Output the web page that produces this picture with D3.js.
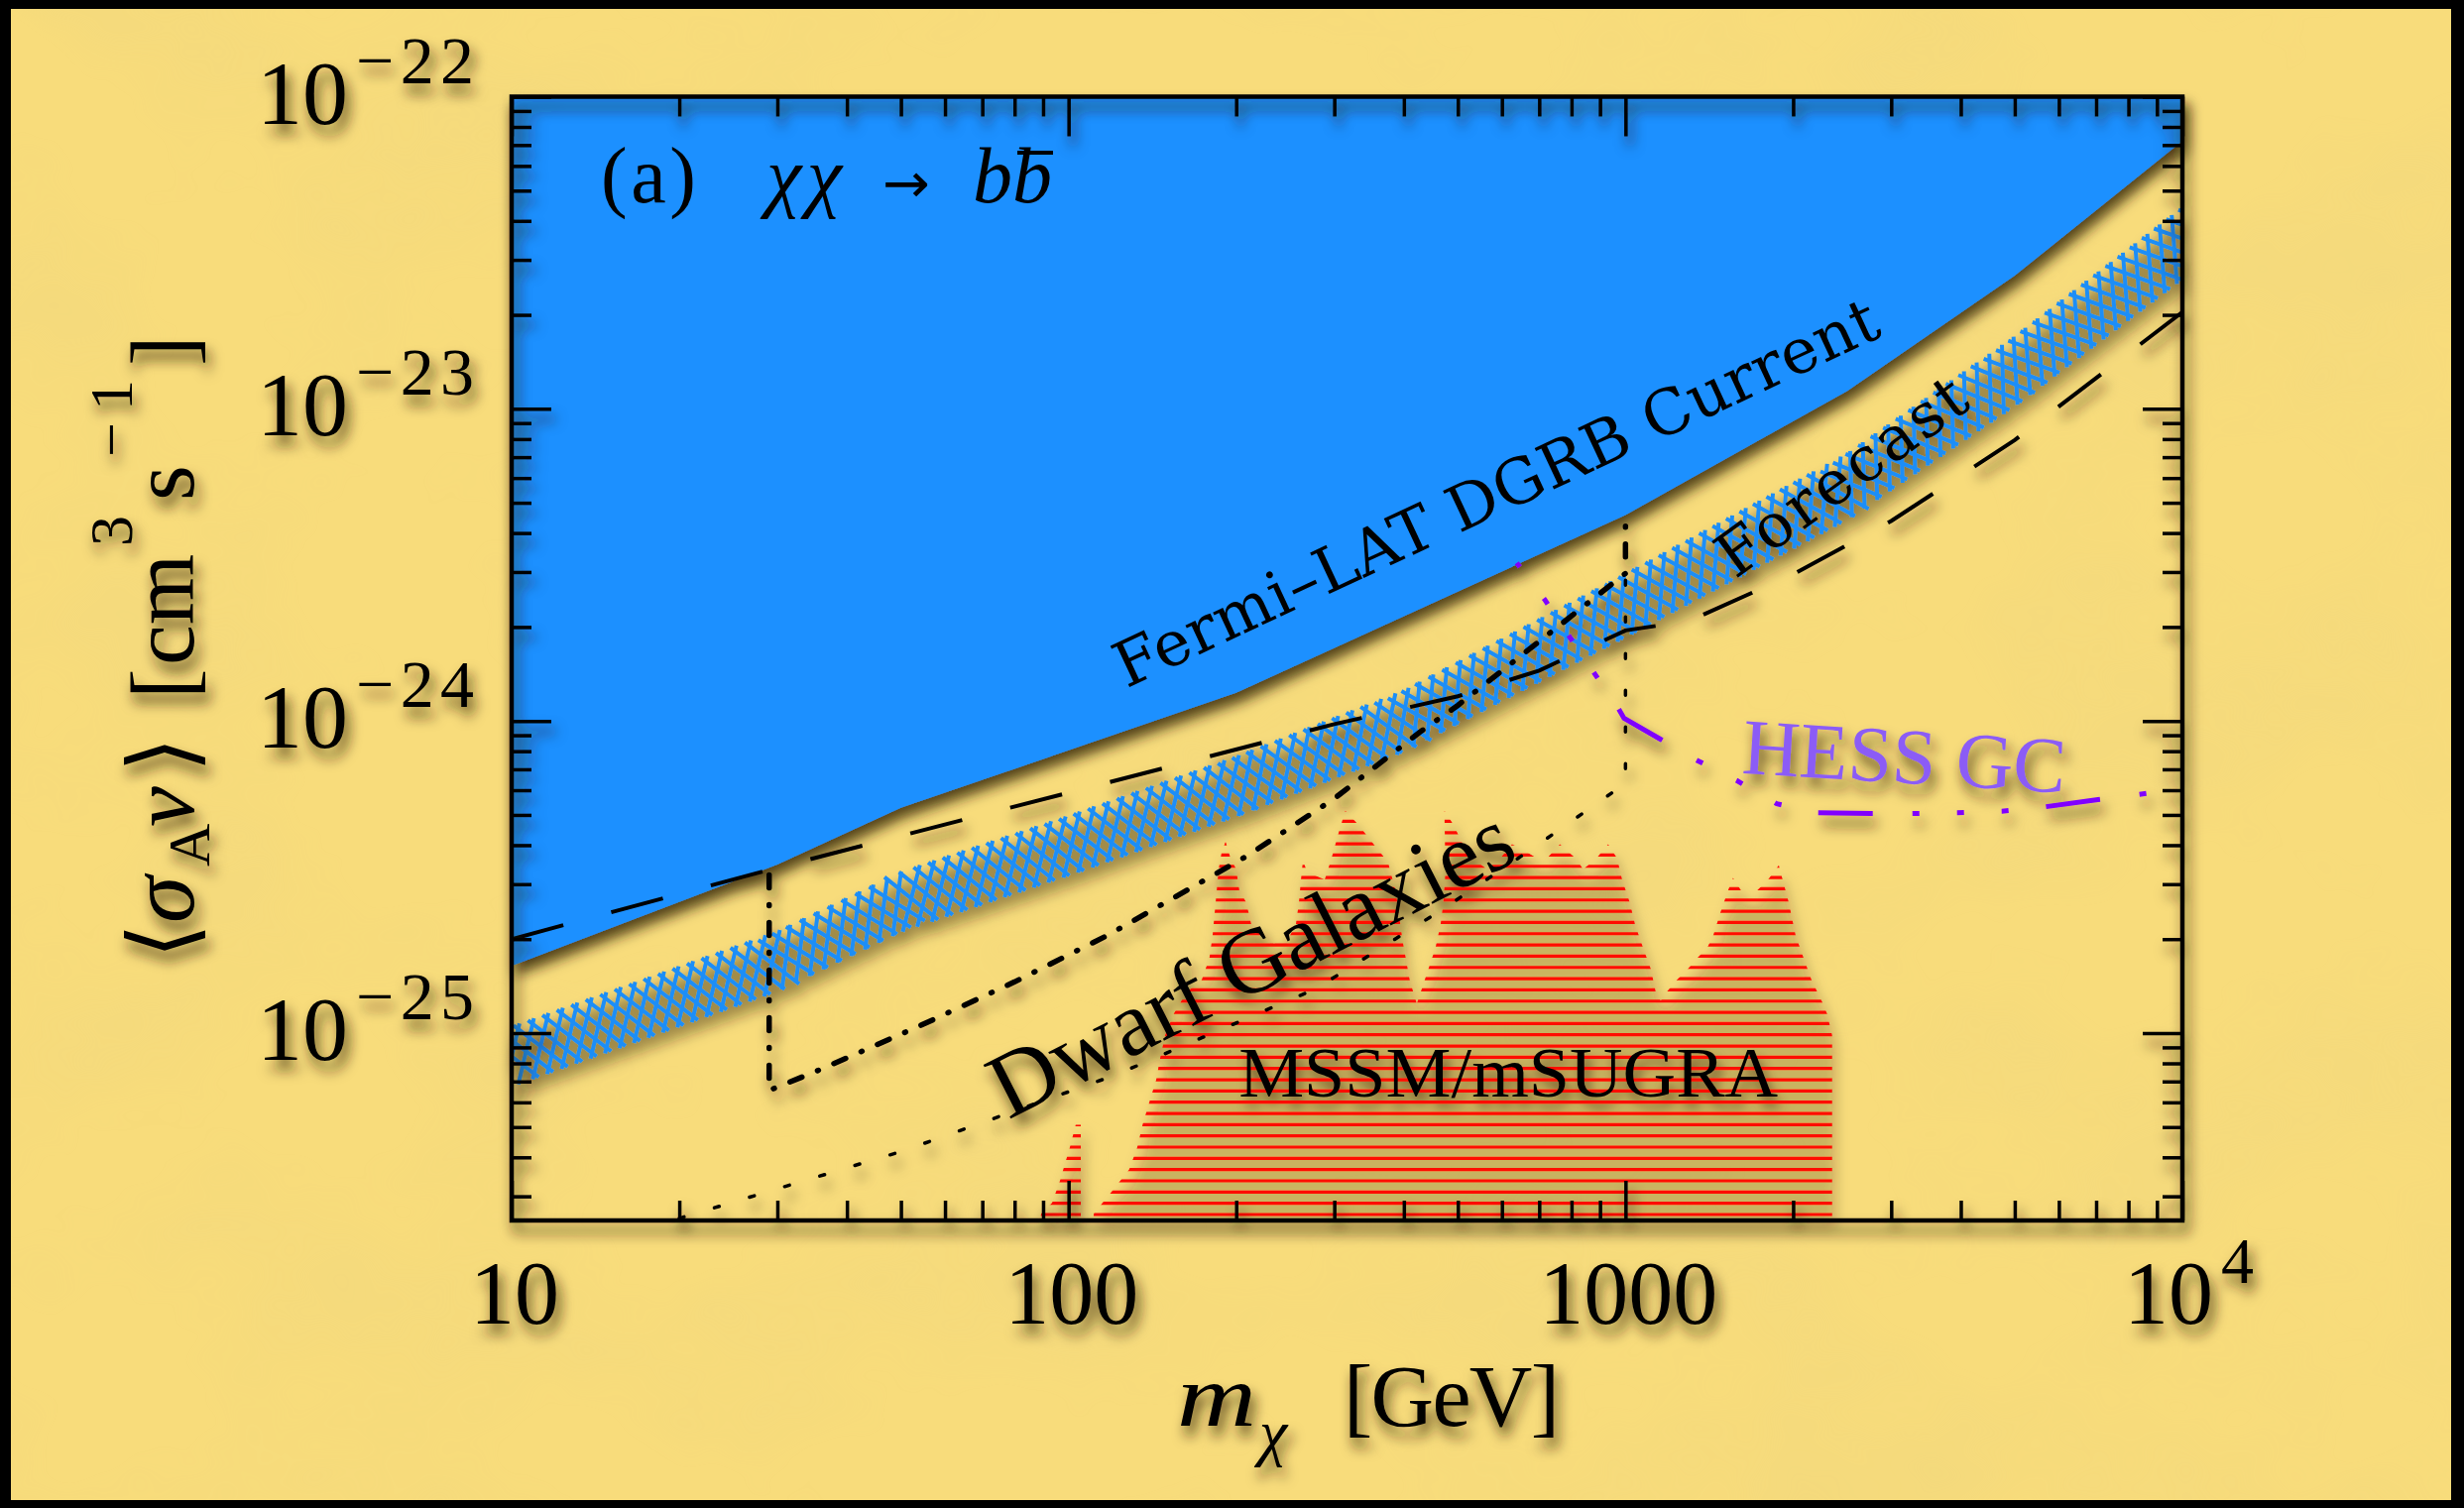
<!DOCTYPE html>
<html>
<head>
<meta charset="utf-8">
<script src="https://cdn.jsdelivr.net/npm/d3@7"></script>
<style>
  html, body { margin: 0; padding: 0; background: #000; }
  svg { display: block; }
</style>
</head>
<body>
<svg id="chart" width="2485" height="1521"></svg>
<script>
// ---------------------------------------------------------------
// Annihilation cross-section limits, chi chi -> b b-bar channel
// mass in GeV, <sigma_A v> in cm^3 s^-1
// ---------------------------------------------------------------

// Fermi-LAT DGRB current limit (region above is excluded)
const massFermi  = [10, 30, 50, 200, 1000, 2500, 5000, 10000];
const sigmaFermi = [1.64e-25, 3.47e-25, 5.27e-25, 1.23e-24, 4.57e-24, 1.14e-23, 2.67e-23, 7.21e-23];

// Fermi-LAT forecast band
const massForecast      = [10, 30, 50, 100, 200, 400, 1000, 2500, 5000, 10000];
const sigmaForecastLow  = [6.84e-26, 1.38e-25, 2.14e-25, 3.24e-25, 5.01e-25, 8.09e-25, 1.88e-24, 4.47e-24, 1.035e-23, 2.64e-23];
const sigmaForecastHigh = [1.035e-25, 2.09e-25, 3.24e-25, 4.90e-25, 7.59e-25, 1.236e-24, 2.92e-24, 7.08e-24, 1.68e-23, 4.35e-23];

// long-dashed limit curve
const massDashed  = [10, 30, 100, 300, 500, 700, 1000, 1300, 2000, 3000, 5000, 10000];
const sigmaDashed = [2.0e-25, 3.39e-25, 5.89e-25, 9.77e-25, 1.20e-24, 1.45e-24, 1.95e-24, 2.09e-24, 2.95e-24, 4.37e-24, 7.94e-24, 2.04e-23];

// dwarf galaxies: upper (dash-dot) and lower (dotted) edges
const massDwarfUpper  = [29, 29, 36, 54, 80, 118, 209, 300, 428, 500, 706, 1000, 1000];
const sigmaDwarfUpper = [3.21e-25, 6.55e-26, 7.67e-26, 1.054e-25, 1.459e-25, 2.065e-25, 3.69e-25, 5.64e-25, 9.23e-25, 1.122e-24, 1.82e-24, 2.97e-24, 4.40e-24];
const massDwarfLower  = [20, 50.4, 121.6, 278.6, 467.7, 679, 1000, 1000];
const sigmaDwarfLower = [2.55e-26, 4.19e-26, 7.35e-26, 1.39e-25, 2.48e-25, 3.89e-25, 6.31e-25, 2.97e-24];

// HESS Galactic Centre limit
const massHess  = [638, 716, 787, 875, 970, 994, 1157, 1330, 1587, 1869, 2194, 2759, 3265, 3942, 4741, 5632, 7055, 8279, 10000];
const sigmaHess = [3.21e-24, 2.45e-24, 1.90e-24, 1.44e-24, 1.10e-24, 1.02e-24, 8.73e-25, 7.55e-25, 6.43e-25, 5.43e-25, 5.08e-25, 5.05e-25, 5.05e-25, 5.08e-25, 5.14e-25, 5.30e-25, 5.60e-25, 5.80e-25, 6.07e-25];

// MSSM / mSUGRA model region outline (main body and the small spike near 100 GeV)
const mssmMass = [109.6, 111, 119.4, 128.5, 132.8, 135.8, 139.5, 143.6, 146, 149,
  154.5, 163, 173.4, 179, 181.4, 184.5, 186, 188.3, 191.4, 195.4,
  200, 202.6, 208.5, 212.8, 222.6, 233.9, 250, 256, 259.2, 261.4,
  263.6, 268, 288.4, 296.6, 305.5, 314, 331, 356.5, 374.6, 387,
  398, 410, 422, 436, 456, 465.6, 471, 475, 473, 490.6,
  513.6, 530.9, 564.4, 595.7, 625.6, 657.6, 693.5, 722.6, 762.5, 813.6,
  839.6, 886.7, 931, 966, 986, 1018, 1040, 1075, 1111, 1133,
  1157, 1186, 1236, 1292, 1346, 1403, 1438, 1479, 1528, 1560,
  1613, 1723, 1803, 1885, 1915, 1964, 2020, 2088, 2158, 2259,
  2303, 2350, 2350];
const mssmSigma = [2e-26, 2.64e-26, 3.10e-26, 3.66e-26, 4.30e-26, 5.08e-26, 5.97e-26, 7.06e-26, 8.30e-26, 9.82e-26,
  1.153e-25, 1.355e-25, 1.479e-25, 1.738e-25, 2.056e-25, 2.858e-25, 3.35e-25, 3.79e-25, 4.11e-25, 3.63e-25,
  3.35e-25, 2.86e-25, 2.62e-25, 2.23e-25, 2.06e-25, 1.94e-25, 2.06e-25, 2.23e-25, 2.62e-25, 3.10e-25,
  3.58e-25, 3.28e-25, 3.10e-25, 3.63e-25, 4.39e-25, 5.16e-25, 4.66e-25, 3.94e-25, 3.53e-25, 2.83e-25,
  1.97e-25, 1.47e-25, 1.24e-25, 1.48e-25, 1.88e-25, 2.23e-25, 2.62e-25, 3.28e-25, 5.16e-25, 4.66e-25,
  3.94e-25, 3.63e-25, 3.35e-25, 3.63e-25, 4.03e-25, 3.85e-25, 3.63e-25, 3.63e-25, 4.03e-25, 3.63e-25,
  3.35e-25, 3.63e-25, 4.03e-25, 3.63e-25, 3.10e-25, 2.62e-25, 2.23e-25, 1.88e-25, 1.60e-25, 1.355e-25,
  1.27e-25, 1.355e-25, 1.48e-25, 1.60e-25, 1.74e-25, 1.88e-25, 2.06e-25, 2.42e-25, 2.86e-25, 3.14e-25,
  2.86e-25, 2.86e-25, 3.10e-25, 3.45e-25, 3.10e-25, 2.62e-25, 2.06e-25, 1.74e-25, 1.48e-25, 1.25e-25,
  1.15e-25, 9.82e-26, 2e-26];
const spikeMass  = [87.5, 89.3, 93.4, 96.5, 100.5, 103, 105.2, 105.2];
const spikeSigma = [2e-26, 2.64e-26, 2.86e-26, 3.36e-26, 4.30e-26, 5.08e-26, 5.08e-26, 2e-26];

// axis ticks and their labels
const xTickValues = [10, 100, 1000, 10000];
const xTickBase   = ["10", "100", "1000", "10"];
const xTickExp    = ["", "", "", "4"];
const yTickValues = [1e-22, 1e-23, 1e-24, 1e-25];
const yTickBase   = ["10", "10", "10", "10"];
const yTickExp    = ["\u221222", "\u221223", "\u221224", "\u221225"];

// ---------------------------------------------------------------
const W = 2485, H = 1521;
const M = { left: 516, right: 2201, top: 97.5, bottom: 1231 };
const PAGE = { x: 11, y: 9, w: W - 24, h: H - 17 };
const SERIF = "'Liberation Serif', 'DejaVu Serif', serif";

const x = d3.scaleLog().domain([10, 1e4]).range([M.left, M.right]);
const y = d3.scaleLog().domain([2.51e-26, 1e-22]).range([M.bottom, M.top]);

const svg = d3.select("#chart");
const defs = svg.append("defs");

// soft drop shadow used for every drawn layer
const sh = defs.append("filter").attr("id", "shadow")
  .attr("filterUnits", "userSpaceOnUse").attr("x", 0).attr("y", 0).attr("width", W).attr("height", H);
sh.append("feGaussianBlur").attr("in", "SourceAlpha").attr("stdDeviation", 6.5).attr("result", "blur");
sh.append("feOffset").attr("in", "blur").attr("dx", 4).attr("dy", 10).attr("result", "off");
sh.append("feFlood").attr("flood-color", "#2a1c00").attr("flood-opacity", 0.78).attr("result", "col");
sh.append("feComposite").attr("in", "col").attr("in2", "off").attr("operator", "in").attr("result", "shadow");
const shm = sh.append("feMerge");
shm.append("feMergeNode").attr("in", "shadow");
shm.append("feMergeNode").attr("in", "SourceGraphic");

// parchment mottling, limited to the page area
const paper = defs.append("filter").attr("id", "paper")
  .attr("filterUnits", "userSpaceOnUse")
  .attr("x", PAGE.x).attr("y", PAGE.y).attr("width", PAGE.w).attr("height", PAGE.h);
paper.append("feTurbulence").attr("type", "fractalNoise").attr("baseFrequency", "0.0035 0.005")
  .attr("numOctaves", 4).attr("seed", 7).attr("result", "n");
paper.append("feColorMatrix").attr("in", "n").attr("type", "matrix")
  .attr("values", "0 0 0 0 0.80  0 0 0 0 0.64  0 0 0 0 0.22  0 0 0 1.3 -0.55");

defs.append("clipPath").attr("id", "plotClip").append("rect")
  .attr("x", M.left).attr("y", M.top).attr("width", M.right - M.left).attr("height", M.bottom - M.top);

const pts = (ms, ss) => ms.map((m, i) => [m, ss[i]]);
const line = d3.line().x(d => x(d[0])).y(d => y(d[1]));
const mssmClip = defs.append("clipPath").attr("id", "mssmClip");
mssmClip.append("path").attr("d", line(pts(mssmMass, mssmSigma)) + "Z");
mssmClip.append("path").attr("d", line(pts(spikeMass, spikeSigma)) + "Z");

// ---------------- background ----------------
svg.append("rect").attr("width", W).attr("height", H).attr("fill", "#000");
svg.append("rect").attr("x", PAGE.x).attr("y", PAGE.y).attr("width", PAGE.w).attr("height", PAGE.h)
  .attr("fill", "#f8dc7b");
svg.append("rect").attr("x", PAGE.x).attr("y", PAGE.y).attr("width", PAGE.w).attr("height", PAGE.h)
  .attr("filter", "url(#paper)").attr("opacity", 0.4);

// ---------------- plot contents ----------------
const plot = svg.append("g").attr("filter", "url(#shadow)")
  .append("g").attr("clip-path", "url(#plotClip)");

// MSSM/mSUGRA region: horizontal red hatching
const rows = plot.append("g").attr("clip-path", "url(#mssmClip)")
  .attr("stroke", "#ff0a00").attr("stroke-width", 3.2);
d3.range(M.bottom - 6, M.top, -11.33).forEach(yy => {
  rows.append("line").attr("x1", x(60)).attr("x2", x(3000)).attr("y1", yy).attr("y2", yy);
});

// forecast band: a chain of crosses following the band centre,
// arm lengths set by the local band width
const bx = massForecast.map(m => x(m));
const loPx = d3.scaleLinear().domain(bx).range(sigmaForecastLow.map(s => y(s)));
const hiPx = d3.scaleLinear().domain(bx).range(sigmaForecastHigh.map(s => y(s)));
const centre = defs.append("path")
  .attr("d", d3.line()(d3.range(bx[0], bx[bx.length - 1] + 1, 4).map(px => [px, (loPx(px) + hiPx(px)) / 2])));
const cNode = centre.node();
const total = cNode.getTotalLength();
const hatch = plot.append("g").attr("stroke", "#1e8ef7").attr("stroke-width", 4).attr("stroke-linecap", "butt");
const rad = Math.PI / 180;
const armA = 57 * rad, armB = 123 * rad;   // arm directions relative to the band tangent
for (let s = 0; s <= total + 40; s += 15.5) {
  const l = Math.min(s, total);
  const p = cNode.getPointAtLength(l);
  const p0 = cNode.getPointAtLength(Math.max(0, l - 3)), p1 = cNode.getPointAtLength(Math.min(total, l + 3));
  let px = p.x, py = p.y;
  if (s > total) { // continue past the right edge so the chain runs out of the frame
    const dxs = (p1.x - p0.x), dys = (p1.y - p0.y), n = Math.hypot(dxs, dys);
    px += dxs / n * (s - total); py += dys / n * (s - total);
  }
  const phi = Math.atan2(-(p1.y - p0.y), p1.x - p0.x);        // tangent angle, counter-clockwise
  const xc = Math.min(p.x, bx[bx.length - 1]);
  const halfW = (loPx(xc) - hiPx(xc)) / 2 * Math.cos(phi);
  [armA, armB].forEach(rel => {
    const a = phi + rel, r = halfW / Math.sin(rel) * 1.08;
    hatch.append("line")
      .attr("x1", px - r * Math.cos(a)).attr("y1", py + r * Math.sin(a))
      .attr("x2", px + r * Math.cos(a)).attr("y2", py - r * Math.sin(a));
  });
}

// Fermi-LAT DGRB current exclusion
const fermiArea = d3.area().x(d => x(d[0])).y0(M.top - 5).y1(d => y(d[1]));
plot.append("path").attr("d", fermiArea(pts(massFermi, sigmaFermi))).attr("fill", "#1e90ff");

// limit curves
plot.append("path").attr("d", line(pts(massHess, sigmaHess)))
  .attr("fill", "none").attr("stroke", "#8000ff").attr("stroke-width", 5)
  .attr("stroke-dasharray", "55 40 7 38 7 38 7 38").attr("stroke-dashoffset", 50);
plot.append("path").attr("d", line(pts(massDashed, sigmaDashed)))
  .attr("fill", "none").attr("stroke", "#000").attr("stroke-width", 4)
  .attr("stroke-dasharray", "54 50");
plot.append("path").attr("d", line(pts(massDwarfUpper, sigmaDwarfUpper)))
  .attr("fill", "none").attr("stroke", "#000").attr("stroke-width", 5.5)
  .attr("stroke-linecap", "round").attr("stroke-dasharray", "13 17 1 17");
plot.append("path").attr("d", line(pts(massDwarfLower, sigmaDwarfLower)))
  .attr("fill", "none").attr("stroke", "#000").attr("stroke-width", 3.5)
  .attr("stroke-linecap", "round").attr("stroke-dasharray", "5 32");

// in-plot labels, anchored in data coordinates
function label(g, txt, m, s, angle, opts) {
  const t = g.append("text")
    .attr("transform", `translate(${x(m)},${y(s)}) rotate(${angle})`)
    .attr("font-family", opts.family || SERIF)
    .attr("font-size", opts.size)
    .attr("fill", opts.fill || "#000")
    .text(txt);
  if (opts.len) t.attr("textLength", opts.len).attr("lengthAdjust", opts.adjust || "spacing");
  return t;
}
label(plot, "Fermi\u2013LAT DGRB Current", 127, 1.27e-24, -25,
  { family: "'DejaVu Serif', serif", size: 63, len: 843 });
label(plot, "Forecast", 1574, 2.84e-24, -36,
  { family: "'DejaVu Serif', serif", size: 62, len: 296 });
label(plot, "Dwarf Galaxies", 78, 5.27e-26, -27, { size: 93, len: 580 });
label(plot, "MSSM/mSUGRA", 202, 6.25e-26, 0, { size: 72, len: 544, adjust: "spacingAndGlyphs" });
label(plot, "HESS GC", 1613, 6.81e-25, 3.5,
  { family: "'Liberation Serif', serif", size: 80, fill: "#8b5cf6" });

// panel tag
const tag = plot.append("g").attr("font-family", SERIF).attr("font-size", 80).attr("fill", "#000");
tag.append("text").attr("x", 606).attr("y", 204).attr("textLength", 96).text("(a)");
tag.append("text").attr("x", 773).attr("y", 204).attr("font-style", "italic").attr("textLength", 76).text("\u03c7\u03c7");
tag.append("text").attr("x", 890).attr("y", 204).attr("font-family", "'DejaVu Sans', sans-serif")
  .attr("font-size", 56).attr("textLength", 48).attr("lengthAdjust", "spacingAndGlyphs").text("\u2192");
tag.append("text").attr("x", 981).attr("y", 204).attr("font-style", "italic").attr("textLength", 80).text("bb");
tag.append("line").attr("x1", 1026).attr("x2", 1062).attr("y1", 154).attr("y2", 154)
  .attr("stroke", "#000").attr("stroke-width", 4);

// ---------------- frame and ticks ----------------
const axes = svg.append("g").attr("filter", "url(#shadow)");
const minorOf = (lo, hi) => {
  const out = [];
  for (let e = Math.floor(Math.log10(lo)); e < Math.ceil(Math.log10(hi)); e++)
    for (let k = 2; k <= 9; k++) { const v = k * Math.pow(10, e); if (v > lo && v < hi) out.push(v); }
  return out;
};
const xMinor = minorOf(10, 1e4);
const yMinor = minorOf(2.51e-26, 1e-22);

function ticks(axisFn, scale, values, size, tx, ty) {
  const g = axes.append("g").attr("transform", `translate(${tx},${ty})`)
    .call(axisFn(scale).tickValues(values).tickSize(size).tickFormat(() => ""));
  g.select(".domain").remove();
  g.selectAll(".tick text").remove();
  g.selectAll(".tick line").attr("stroke", "#000").attr("stroke-width", 3.5);
}
ticks(d3.axisTop, x, xMinor, 20, 0, M.bottom);
ticks(d3.axisTop, x, xTickValues, 40, 0, M.bottom);
ticks(d3.axisBottom, x, xMinor, 20, 0, M.top);
ticks(d3.axisBottom, x, xTickValues, 40, 0, M.top);
ticks(d3.axisRight, y, yMinor, 20, M.left, 0);
ticks(d3.axisRight, y, yTickValues, 40, M.left, 0);
ticks(d3.axisLeft, y, yMinor, 20, M.right, 0);
ticks(d3.axisLeft, y, yTickValues, 40, M.right, 0);

axes.append("rect").attr("x", M.left).attr("y", M.top)
  .attr("width", M.right - M.left).attr("height", M.bottom - M.top)
  .attr("fill", "none").attr("stroke", "#000").attr("stroke-width", 4.5);

// ---------------- tick labels and axis titles ----------------
const lab = svg.append("g").attr("filter", "url(#shadow)")
  .attr("font-family", SERIF).attr("fill", "#000");

xTickValues.forEach((v, i) => {
  const cx = x(v);
  if (xTickExp[i]) {
    lab.append("text").attr("x", cx + 31).attr("y", M.bottom + 104).attr("text-anchor", "end")
      .attr("font-size", 90).text(xTickBase[i]);
    lab.append("text").attr("x", cx + 39).attr("y", M.bottom + 63).attr("font-size", 66).text(xTickExp[i]);
  } else {
    lab.append("text").attr("x", cx + 3).attr("y", M.bottom + 104).attr("text-anchor", "middle")
      .attr("font-size", 90).text(xTickBase[i]);
  }
});
yTickValues.forEach((v, i) => {
  const cy = y(v);
  lab.append("text").attr("x", M.left - 165).attr("y", cy + 27).attr("text-anchor", "end")
    .attr("font-size", 92).text(yTickBase[i]);
  lab.append("text").attr("x", M.left - 157).attr("y", cy - 14)
    .attr("font-size", 68).attr("textLength", 119).text(yTickExp[i]);
});

// x title: m_chi [GeV]
lab.append("text").attr("x", 1187).attr("y", 1438).attr("font-size", 88).attr("font-style", "italic")
  .attr("textLength", 80).attr("lengthAdjust", "spacingAndGlyphs").text("m");
lab.append("text").attr("x", 1270).attr("y", 1466).attr("font-size", 64).attr("font-style", "italic").text("\u03c7");
lab.append("text").attr("x", 1355).attr("y", 1438).attr("font-size", 88)
  .attr("textLength", 218).text("[GeV]");

// y title: <sigma_A v> [cm^3 s^-1], reading upward
const yt = lab.append("g").attr("transform", "translate(195,967) rotate(-90)");
const yParts = [
  { t: "\u27e8", x: 0, y: 0, fs: 92 },
  { t: "\u03c3", x: 36, y: 0, fs: 96, it: true },
  { t: "A", x: 93, y: 16, fs: 60 },
  { t: "v", x: 133, y: 0, fs: 92, it: true },
  { t: "\u27e9", x: 188, y: 0, fs: 92 },
  { t: "[", x: 262, y: 0, fs: 92 },
  { t: "cm", x: 296, y: 0, fs: 92 },
  { t: "3", x: 416, y: -62, fs: 62 },
  { t: "s", x: 462, y: 0, fs: 92 },
  { t: "\u22121", x: 506, y: -62, fs: 62, len: 78 },
  { t: "]", x: 598, y: 0, fs: 92 }
];
yParts.forEach(p => {
  const t = yt.append("text").attr("x", p.x).attr("y", p.y).attr("font-size", p.fs).text(p.t);
  if (p.it) t.attr("font-style", "italic");
  if (p.len) t.attr("textLength", p.len);
});
</script>
</body>
</html>
